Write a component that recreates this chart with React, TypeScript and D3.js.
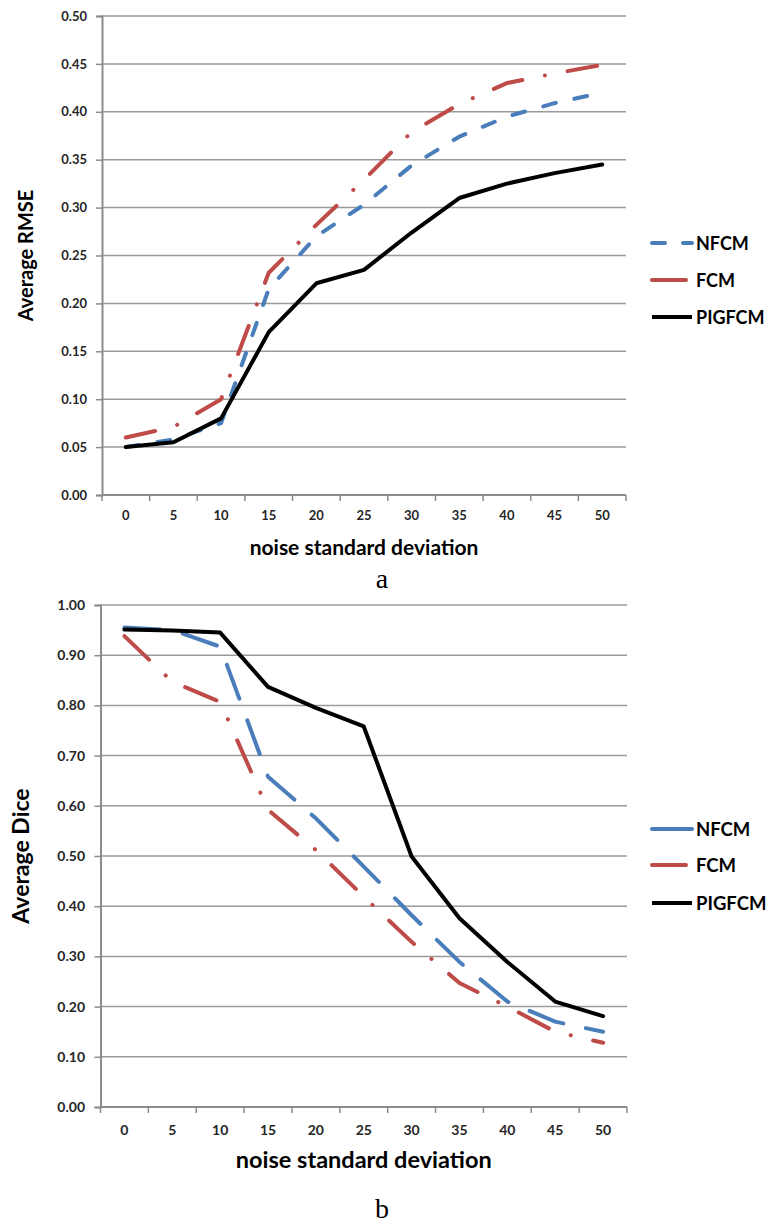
import React, { useRef, useEffect } from 'react';
import * as d3 from 'd3';

const noiseLevels = ['0', '5', '10', '15', '20', '25', '30', '35', '40', '45', '50'];
const seriesNames = ['NFCM', 'FCM', 'PIGFCM'];
const seriesColors = ['#4a7ebb', '#be4b48', '#000000'];

// panel a: average RMSE
const rmseNFCM = [0.05, 0.058, 0.075, 0.215, 0.27, 0.303, 0.344, 0.374, 0.395, 0.409, 0.42];
const rmseFCM = [0.06, 0.071, 0.1, 0.232, 0.282, 0.329, 0.379, 0.408, 0.43, 0.44, 0.449];
const rmsePIGFCM = [0.05, 0.055, 0.08, 0.17, 0.221, 0.235, 0.274, 0.31, 0.325, 0.336, 0.345];
const rmseTicks = [0, 0.05, 0.1, 0.15, 0.2, 0.25, 0.3, 0.35, 0.4, 0.45, 0.5];

// panel b: average Dice
const diceNFCM = [0.955, 0.95, 0.917, 0.658, 0.575, 0.479, 0.382, 0.289, 0.21, 0.17, 0.15];
const diceFCM = [0.938, 0.847, 0.807, 0.592, 0.512, 0.419, 0.329, 0.247, 0.2, 0.15, 0.128];
const dicePIGFCM = [0.951, 0.949, 0.945, 0.837, 0.795, 0.758, 0.499, 0.376, 0.289, 0.21, 0.181];
const diceTicks = [0, 0.1, 0.2, 0.3, 0.4, 0.5, 0.6, 0.7, 0.8, 0.9, 1.0];

const FONT = 'Lato, "Open Sans", sans-serif';

function drawPanel(svg: any, cfg: any) {
    const g = svg.append('g');
    const x = d3.scaleBand().domain(noiseLevels).range([cfg.left, cfg.right]).padding(0);
    const y = d3.scaleLinear().domain([0, cfg.yMax]).range([cfg.bottom, cfg.top]);

    // gridlines
    g.selectAll('.grid')
        .data(cfg.ticks.slice(1))
        .enter().append('line')
        .attr('x1', cfg.left).attr('x2', cfg.right)
        .attr('y1', (d: number) => y(d)).attr('y2', (d: number) => y(d))
        .attr('stroke', '#9a9a9a').attr('stroke-width', 1.5);

    // y axis
    const yAxis = d3.axisLeft(y).tickValues(cfg.ticks).tickSize(6).tickFormat(d3.format('.2f'));
    const ya = g.append('g').attr('transform', `translate(${cfg.left},0)`).call(yAxis);
    ya.select('.domain').attr('stroke', '#8c8c8c').attr('stroke-width', 2);
    ya.selectAll('.tick line').attr('stroke', '#8c8c8c').attr('stroke-width', 1.5);
    ya.selectAll('.tick text')
        .attr('x', cfg.yLabelRight - cfg.left)
        .attr('font-family', FONT).attr('font-weight', 'bold')
        .attr('font-size', cfg.tickFont).attr('fill', '#262626');

    // x axis: ticks at category edges, labels at centres
    const edges = noiseLevels.map(c => x(c) as number).concat([cfg.right]);
    g.append('line')
        .attr('x1', cfg.left).attr('x2', cfg.right)
        .attr('y1', cfg.bottom).attr('y2', cfg.bottom)
        .attr('stroke', '#8c8c8c').attr('stroke-width', 2);
    g.selectAll('.xtick')
        .data(edges)
        .enter().append('line')
        .attr('x1', (d: number) => d).attr('x2', (d: number) => d)
        .attr('y1', cfg.bottom).attr('y2', cfg.bottom + 6)
        .attr('stroke', '#8c8c8c').attr('stroke-width', 1.5);
    g.selectAll('.xlabel')
        .data(noiseLevels)
        .enter().append('text')
        .attr('x', (d: string) => (x(d) as number) + x.bandwidth() / 2)
        .attr('y', cfg.xLabelY)
        .attr('text-anchor', 'middle')
        .attr('font-family', FONT).attr('font-weight', 'bold')
        .attr('font-size', cfg.tickFont).attr('fill', '#262626')
        .text((d: string) => d);

    // series
    const line = d3.line<number>()
        .x((d, i) => (x(noiseLevels[i]) as number) + x.bandwidth() / 2)
        .y(d => y(d));
    cfg.series.forEach((vals: number[], i: number) => {
        g.append('path')
            .datum(vals)
            .attr('fill', 'none')
            .attr('stroke', seriesColors[i])
            .attr('stroke-width', 4)
            .attr('stroke-linecap', 'round')
            .attr('stroke-linejoin', 'round')
            .attr('stroke-dasharray', cfg.dashes[i])
            .attr('d', line);
    });

    // titles
    g.append('text')
        .attr('transform', `translate(${cfg.yTitleX},${(cfg.top + cfg.bottom) / 2}) rotate(-90)`)
        .attr('text-anchor', 'middle').attr('dominant-baseline', 'central')
        .attr('font-family', FONT).attr('font-weight', 'bold')
        .attr('font-size', cfg.titleFont).attr('fill', '#000')
        .text(cfg.yTitle);
    g.append('text')
        .attr('x', (cfg.left + cfg.right) / 2).attr('y', cfg.xTitleY)
        .attr('text-anchor', 'middle')
        .attr('font-family', FONT).attr('font-weight', 'bold')
        .attr('font-size', cfg.xTitleFont).attr('fill', '#000')
        .text('noise standard deviation');

    // legend
    seriesNames.forEach((name, i) => {
        const ly = cfg.legendY[i];
        g.append('line')
            .attr('x1', 652).attr('x2', i === 1 ? 686 : 692)
            .attr('y1', ly).attr('y2', ly)
            .attr('stroke', seriesColors[i]).attr('stroke-width', 4)
            .attr('stroke-linecap', i === 2 ? 'butt' : 'round')
            .attr('stroke-dasharray', cfg.legendDashes[i]);
        g.append('text')
            .attr('x', 696).attr('y', ly)
            .attr('dominant-baseline', 'central')
            .attr('font-family', FONT).attr('font-weight', 'bold')
            .attr('font-size', cfg.legendFont).attr('fill', '#000')
            .text(name);
    });

    // panel caption
    g.append('text')
        .attr('x', 382).attr('y', cfg.captionY)
        .attr('text-anchor', 'middle')
        .attr('font-family', '"Liberation Serif", "DejaVu Serif", serif')
        .attr('font-size', 28).attr('fill', '#000')
        .text(cfg.caption);
}

function App() {
    const ref = useRef<SVGSVGElement | null>(null);

    useEffect(() => {
        const svg = d3.select(ref.current);
        svg.selectAll('*').remove();

        drawPanel(svg, {
            left: 102, right: 626, top: 16, bottom: 495, yMax: 0.5,
            ticks: rmseTicks, tickFont: 13, yLabelRight: 87, xLabelY: 520,
            series: [rmseNFCM, rmseFCM, rmsePIGFCM],
            dashes: ['13 19', '30 23 0.1 23', null],
            legendDashes: ['13 18', null, null],
            legendY: [243, 280, 317], legendFont: 18,
            yTitle: 'Average RMSE', yTitleX: 25, titleFont: 20,
            xTitleY: 555, xTitleFont: 21,
            caption: 'a', captionY: 588,
        });

        drawPanel(svg, {
            left: 100.5, right: 627, top: 605, bottom: 1107, yMax: 1.0,
            ticks: diceTicks, tickFont: 14, yLabelRight: 85, xLabelY: 1135,
            series: [diceNFCM, diceFCM, dicePIGFCM],
            dashes: ['36 23', '34 23 0.1 23', null],
            legendDashes: [null, null, null],
            legendY: [829, 865, 903], legendFont: 18.5,
            yTitle: 'Average Dice', yTitleX: 20, titleFont: 23,
            xTitleY: 1168, xTitleFont: 23.5,
            caption: 'b', captionY: 1218,
        });
    }, []);

    return (
        <svg ref={ref} width={771} height={1225}
            style={{ position: 'absolute', left: 0, top: 0, background: '#fff' }} />
    );
}

export default App;
